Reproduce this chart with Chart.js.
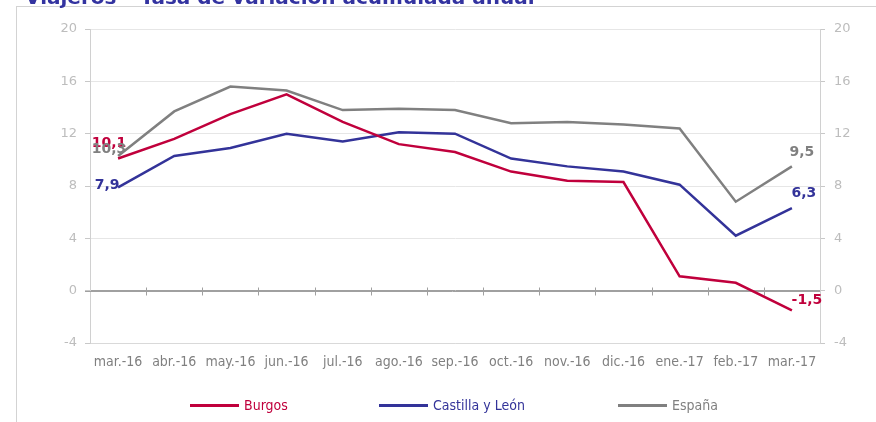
<!DOCTYPE html>
<html>
<head>
<meta charset="utf-8">
<script src="https://cdn.jsdelivr.net/npm/chart.js@4/dist/chart.umd.min.js"></script>
<style>
  html, body { margin: 0; padding: 0; background: #fff; }
  body { width: 876px; height: 422px; overflow: hidden; position: relative; }
  #frame { position: absolute; left: 16px; top: 6px; width: 900px; height: 500px; border: 1px solid #D3D3D3; box-sizing: border-box; }
  #wrap { position: absolute; left: 0; top: 0; width: 876px; height: 422px; }
  .leg { position: absolute; top: 396px; height: 18px; font-family: "DejaVu Sans Condensed", "DejaVu Sans", sans-serif; font-size: 14px; line-height: 18px; white-space: nowrap; }
  .leg i { display: inline-block; width: 49px; height: 3px; vertical-align: middle; margin-right: 5px; position: relative; top: -1px; }
</style>
</head>
<body>
<div id="frame"></div>
<div id="wrap"><canvas id="c" width="876" height="422"></canvas></div>
<div class="leg" style="left:190px;color:#C0003C"><i style="background:#C0003C"></i>Burgos</div>
<div class="leg" style="left:379px;color:#333399"><i style="background:#333399"></i>Castilla y León</div>
<div class="leg" style="left:618px;color:#808080"><i style="background:#808080"></i>España</div>
<script>
const categories = ['mar.-16','abr.-16','may.-16','jun.-16','jul.-16','ago.-16','sep.-16','oct.-16','nov.-16','dic.-16','ene.-17','feb.-17','mar.-17'];
const burgos = [10.1, 11.6, 13.5, 15.0, 12.9, 11.2, 10.6, 9.1, 8.4, 8.3, 1.1, 0.6, -1.5];
const castillaLeon = [7.9, 10.3, 10.9, 12.0, 11.4, 12.1, 12.0, 10.1, 9.5, 9.1, 8.1, 4.2, 6.3];
const espana = [10.3, 13.7, 15.6, 15.3, 13.8, 13.9, 13.8, 12.8, 12.9, 12.7, 12.4, 6.8, 9.5];
const seriesNames = ['Burgos', 'Castilla y León', 'España'];
const yTicks = [-4, 0, 4, 8, 12, 16, 20];
const titleText = 'Viajeros – Tasa de variación acumulada anual';

const colors = ['#C0003C', '#333399', '#808080'];
const labelOffsets = [
  { first: [-9, -15], last: [15, -10] },
  { first: [-11, -2], last: [12, -15] },
  { first: [-9, -7], last: [10, -14] }
];

const fmt = v => v.toFixed(1).replace('.', ',');

const endLabels = {
  id: 'endLabels',
  afterDatasetsDraw(chart) {
    const ctx = chart.ctx;
    ctx.save();
    ctx.font = 'bold 14px "DejaVu Sans", sans-serif';
    ctx.textAlign = 'center';
    ctx.textBaseline = 'middle';
    chart.data.datasets.forEach((ds, i) => {
      const meta = chart.getDatasetMeta(i);
      const n = ds.data.length;
      const o = labelOffsets[i];
      ctx.fillStyle = colors[i];
      const p0 = meta.data[0], p1 = meta.data[n - 1];
      ctx.fillText(fmt(ds.data[0]), p0.x + o.first[0], p0.y + o.first[1]);
      ctx.fillText(fmt(ds.data[n - 1]), p1.x + o.last[0], p1.y + o.last[1]);
    });
    ctx.restore();
  }
};

const zeroAxis = {
  id: 'zeroAxis',
  beforeDatasetsDraw(chart) {
    const ctx = chart.ctx;
    const x = chart.scales.x, y = chart.scales.y;
    const y0 = Math.round(y.getPixelForValue(0)) + 0.5;
    ctx.save();
    ctx.strokeStyle = '#A0A0A0';
    ctx.lineWidth = 1;
    ctx.beginPath();
    ctx.moveTo(chart.chartArea.left - 5, y0);
    ctx.lineTo(chart.chartArea.right, y0);
    for (let i = 1; i < categories.length; i++) {
      const bx = Math.round((x.getPixelForValue(i - 1) + x.getPixelForValue(i)) / 2) + 0.5;
      ctx.moveTo(bx, y0 - 4);
      ctx.lineTo(bx, y0 + 4);
    }
    ctx.stroke();
    ctx.restore();
  }
};

const titlePlugin = {
  id: 'titlePlugin',
  afterDraw(chart) {
    const ctx = chart.ctx;
    ctx.save();
    ctx.font = 'bold 20px "DejaVu Sans", sans-serif';
    ctx.fillStyle = '#3333A0';
    ctx.textAlign = 'left';
    ctx.textBaseline = 'alphabetic';
    ctx.fillText(titleText, 25, 4);
    ctx.restore();
  }
};

new Chart(document.getElementById('c'), {
  type: 'line',
  data: {
    labels: categories,
    datasets: [burgos, castillaLeon, espana].map((d, i) => ({
      label: seriesNames[i],
      data: d,
      borderColor: colors[i],
      backgroundColor: colors[i],
      borderWidth: 2.5,
      pointRadius: 0,
      tension: 0,
      fill: false
    }))
  },
  options: {
    responsive: false,
    animation: false,
    events: [],
    layout: { padding: { top: 29, left: 0, right: 0, bottom: 0 } },
    plugins: { legend: { display: false }, tooltip: { enabled: false }, title: { display: false } },
    scales: {
      x: {
        offset: true,
        grid: { display: false, drawTicks: false },
        border: { display: true, color: '#D9D9D9' },
        ticks: { color: '#808080', padding: 11, maxRotation: 0, autoSkip: false,
                 font: { family: '"DejaVu Sans Condensed", "DejaVu Sans", sans-serif', size: 14 } },
        afterFit(s) { s.height = 79; }
      },
      y: {
        position: 'left',
        min: -4, max: 20,
        afterBuildTicks(s) { s.ticks = yTicks.map(v => ({ value: v })); },
        grid: {
          color: c => (c.tick && c.tick.value === 0) ? '#A0A0A0' : '#E6E6E6',
          tickColor: '#C8C8C8', tickLength: 5, drawTicks: true
        },
        border: { display: true, color: '#D0D0D0' },
        ticks: { color: '#BDBDBD', padding: 8, font: { family: '"DejaVu Sans", sans-serif', size: 13 } },
        afterFit(s) { s.width = 90; }
      },
      y2: {
        position: 'right',
        min: -4, max: 20,
        afterBuildTicks(s) { s.ticks = yTicks.map(v => ({ value: v })); },
        grid: { drawOnChartArea: false, tickColor: '#C8C8C8', tickLength: 5 },
        border: { display: true, color: '#D0D0D0' },
        ticks: { color: '#BDBDBD', padding: 9, font: { family: '"DejaVu Sans", sans-serif', size: 13 } },
        afterFit(s) { s.width = 56; }
      }
    }
  },
  plugins: [zeroAxis, endLabels, titlePlugin]
});
</script>
</body>
</html>
